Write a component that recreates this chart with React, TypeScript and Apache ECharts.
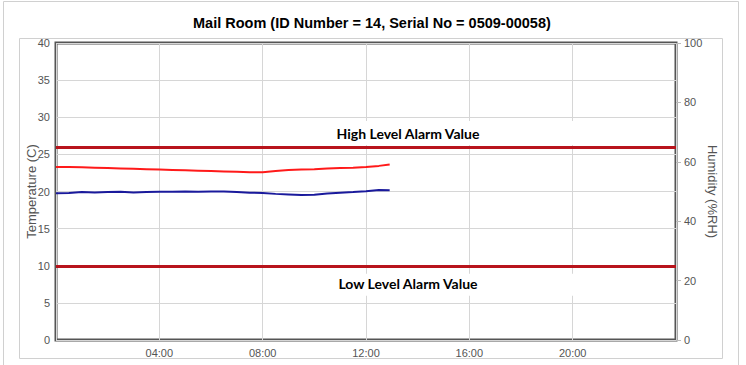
import React, { useEffect, useRef } from "react";
import * as echarts from "echarts";

const TITLE = "Mail Room (ID Number = 14, Serial No = 0509-00058)";
const TIMES = ["00:00","00:30","01:00","01:30","02:00","02:30","03:00","03:30","04:00","04:30","05:00","05:30","06:00","06:30","07:00","07:30","08:00","08:30","09:00","09:30","10:00","10:30","11:00","11:30","12:00","12:30","12:55"];
const TEMPERATURE = [23.3,23.3,23.25,23.2,23.15,23.1,23.05,23.0,22.95,22.9,22.85,22.8,22.75,22.7,22.65,22.6,22.6,22.75,22.9,22.95,23.0,23.1,23.15,23.2,23.3,23.45,23.65];
const HUMIDITY = [49.4,49.5,49.8,49.7,49.8,49.9,49.7,49.8,49.9,49.9,50.0,49.9,50.0,50.0,49.8,49.6,49.5,49.2,49.0,48.8,48.9,49.3,49.6,49.8,50.1,50.5,50.4];
const HIGH_ALARM = 26;
const LOW_ALARM = 10;
const HIGH_LABEL = "High Level Alarm Value";
const LOW_LABEL = "Low Level Alarm Value";

const toHours = (t: string) => {
  const [h, m] = t.split(":").map(Number);
  return h + m / 60;
};

export default function App() {
  const ref = useRef<HTMLDivElement>(null);
  useEffect(() => {
    document.body.style.margin = "0";
    const chart = echarts.init(ref.current!, null, { renderer: "svg" });
    const gray = "#545454";
    const labelFont = { color: gray, fontSize: 11, fontFamily: "Liberation Sans, Arial, sans-serif" };
    chart.setOption({
      animation: false,
      backgroundColor: "#fff",
      title: {
        text: TITLE,
        left: 188,
        top: 10,
        textStyle: { fontSize: 14.5, fontWeight: "bold", color: "#000", fontFamily: "Liberation Sans, Arial, sans-serif" },
      },
      grid: { left: 56, right: 70, top: 43, bottom: 25, show: true, borderColor: "#555", borderWidth: 3, backgroundColor: "transparent" },
      xAxis: {
        type: "value",
        min: 0,
        max: 24,
        interval: 4,
        axisLine: { show: false },
        axisTick: { show: false },
        splitLine: { show: true, lineStyle: { color: "#d6d6d6", width: 1 } },
        axisLabel: {
          ...labelFont,
          margin: 7,
          formatter: (v: number) => (v === 0 || v === 24 ? "" : String(v).padStart(2, "0") + ":00"),
        },
      },
      yAxis: [
        {
          type: "value",
          min: 0,
          max: 40,
          interval: 5,
          name: "Temperature (C)",
          nameLocation: "middle",
          nameGap: 18,
          nameMoveOverlap: false,
          nameTextStyle: { color: gray, fontSize: 13, fontFamily: "Liberation Sans, Arial, sans-serif" },
          axisLine: { show: false },
          axisTick: { show: false },
          axisLabel: { ...labelFont, margin: 6 },
          splitLine: { show: true, lineStyle: { color: "#d6d6d6", width: 1 } },
        },
        {
          type: "value",
          min: 0,
          max: 100,
          interval: 20,
          position: "right",
          name: "Humidity (%RH)",
          nameLocation: "middle",
          nameRotate: -90,
          nameGap: 30,
          nameMoveOverlap: false,
          nameTextStyle: { color: gray, fontSize: 13, fontFamily: "Liberation Sans, Arial, sans-serif" },
          axisLine: { show: false },
          axisTick: { show: true, length: 5, lineStyle: { color: "#bbb" } },
          axisLabel: { ...labelFont, margin: 8 },
          splitLine: { show: false },
        },
      ],
      series: [
        {
          type: "line",
          name: "Temperature",
          yAxisIndex: 0,
          showSymbol: false,
          data: TIMES.map((t, i) => [toHours(t), TEMPERATURE[i]]),
          lineStyle: { color: "#ff1a1a", width: 2 },
          itemStyle: { color: "#ff1a1a" },
          z: 3,
          markLine: {
            silent: true,
            symbol: "none",
            label: { show: false },
            lineStyle: { color: "#b8141c", width: 3, type: "solid" },
            data: [{ yAxis: HIGH_ALARM }, { yAxis: LOW_ALARM }],
            z: 4,
          },
        },
        {
          type: "line",
          name: "Humidity",
          yAxisIndex: 1,
          showSymbol: false,
          data: TIMES.map((t, i) => [toHours(t), HUMIDITY[i]]),
          lineStyle: { color: "#1a1a9c", width: 2 },
          itemStyle: { color: "#1a1a9c" },
          z: 3,
        },
      ],
    });

    const yHigh = chart.convertToPixel({ yAxisIndex: 0 }, HIGH_ALARM) as number;
    const yLow = chart.convertToPixel({ yAxisIndex: 0 }, LOW_ALARM) as number;
    const labelStyle = { fill: "#000", font: "bold 14px Lato, 'Open Sans', sans-serif", textAlign: "center", textVerticalAlign: "middle" };
    chart.setOption({
      graphic: [
        { type: "rect", z: -10, silent: true, shape: { x: 3.5, y: 1.5, width: 735, height: 400 }, style: { fill: "none", stroke: "#d0d0d0", lineWidth: 1 } },
        { type: "rect", z: -10, silent: true, shape: { x: 19.5, y: 38.5, width: 703, height: 320 }, style: { fill: "none", stroke: "#d0d0d0", lineWidth: 1 } },
        { type: "rect", z: 1, silent: true, shape: { x: 275, y: yHigh - 26, width: 336, height: 24 }, style: { fill: "#fff" } },
        { type: "text", z: 1, silent: true, x: 408, y: yHigh - 13, style: { ...labelStyle, text: HIGH_LABEL } },
        { type: "rect", z: 1, silent: true, shape: { x: 275, y: yLow + 8, width: 336, height: 22 }, style: { fill: "#fff" } },
        { type: "text", z: 1, silent: true, x: 408, y: yLow + 18, style: { ...labelStyle, text: LOW_LABEL } },
      ],
    });
    return () => chart.dispose();
  }, []);
  return <div ref={ref} style={{ position: "fixed", left: 0, top: 0, width: 746, height: 365 }} />;
}
